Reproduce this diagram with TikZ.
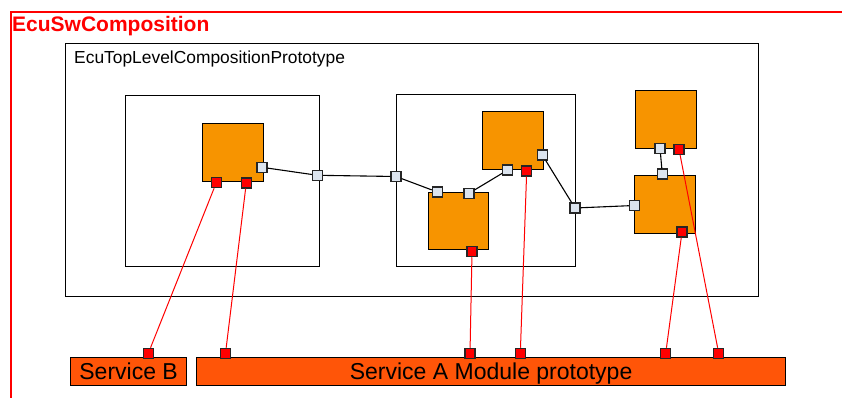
\documentclass[tikz,border=0pt]{standalone}
\usepackage{fontspec}
\setmainfont{Liberation Sans}
\definecolor{compfill}{HTML}{F79400}
\definecolor{servfill}{HTML}{FF5508}
\definecolor{portlight}{HTML}{DCE4EE}
\begin{document}
\begin{tikzpicture}[x=1pt,y=-1pt,
  frame/.style={draw=black,line width=1.2pt},
  comp/.style={draw=black,fill=compfill,line width=1.2pt,anchor=north west,inner sep=0pt},
  serv/.style={draw=black,fill=servfill,line width=1.2pt,anchor=north west,inner sep=0pt,text height=16.5pt,text depth=0pt,font=\fontsize{23}{23}\selectfont},
  lport/.style={draw=black!85,fill=portlight,line width=1.1pt,minimum size=10pt,inner sep=0pt},
  rport/.style={draw=black!85,fill=red,line width=1.1pt,minimum size=10pt,inner sep=0pt},
  conn/.style={draw=black,line width=1.1pt},
  rconn/.style={draw=red,line width=1pt}]
\useasboundingbox (0,0) rectangle (842,398);
% outer red frame
\draw[red,line width=1.8pt] (842,12) -- (11,12) -- (11,398);
\node[anchor=base west,inner sep=0pt,text=red,font=\fontsize{21}{21}\selectfont\bfseries] (title) at (12,31.5) {EcuSwComposition};
% composition prototype boxes
\node[frame,anchor=north west,minimum width=693pt,minimum height=253pt,inner sep=0pt] (top) at (65,43) {};
\node[anchor=base west,inner sep=0pt,font=\fontsize{17.4}{17.4}\selectfont] (toplabel) at (74,63.3) {EcuTopLevelCompositionPrototype};
\node[frame,anchor=north west,minimum width=194pt,minimum height=171pt,inner sep=0pt] (boxL) at (125,95) {};
\node[frame,anchor=north west,minimum width=179pt,minimum height=172pt,inner sep=0pt] (boxM) at (396,94) {};
% components
\node[comp,minimum width=61pt,minimum height=58pt] (cA) at (202,123) {};
\node[comp,minimum width=61pt,minimum height=58pt] (cB) at (482,111) {};
\node[comp,minimum width=60pt,minimum height=57pt] (cC) at (428,192) {};
\node[comp,minimum width=61pt,minimum height=58pt] (cD) at (635,90) {};
\node[comp,minimum width=61pt,minimum height=58pt] (cE) at (634,175) {};
% services
\node[serv,minimum width=116pt,minimum height=28pt] (sB) at (70,357) {Service B};
\node[serv,minimum width=589pt,minimum height=28pt] (sA) at (196,357) {Service A Module prototype};
% ports
\node[lport] (pA1) at (262,167.3) {};
\node[rport] (pAr1) at (216.3,182.7) {};
\node[rport] (pAr2) at (246.3,183) {};
\node[lport] (pL) at (317.5,175.3) {};
\node[lport] (pM1) at (396,176.5) {};
\node[lport] (pC1) at (437.3,192) {};
\node[lport] (pC2) at (469,193.3) {};
\node[rport] (pCr) at (472,251.7) {};
\node[lport] (pB1) at (507.7,170) {};
\node[rport] (pBr) at (526.7,171) {};
\node[lport] (pB2) at (542.3,155) {};
\node[lport] (pM2) at (575,208) {};
\node[lport] (pD1) at (660,148.3) {};
\node[rport] (pDr) at (679,149.3) {};
\node[lport] (pE1) at (662.3,174) {};
\node[lport] (pE2) at (634.3,205.5) {};
\node[rport] (pEr) at (682,232) {};
\node[rport] (qB) at (148.3,353.3) {};
\node[rport] (qA1) at (225.5,353.3) {};
\node[rport] (qA2) at (470,353.3) {};
\node[rport] (qA3) at (520.3,353.3) {};
\node[rport] (qA4) at (665.7,353.3) {};
\node[rport] (qA5) at (718.7,353.3) {};
% black connectors
\draw[conn] (pA1) -- (pL);
\draw[conn] (pL) -- (pM1);
\draw[conn] (pM1) -- (pC1);
\draw[conn] (pC2) -- (pB1);
\draw[conn] (pB2) -- (pM2);
\draw[conn] (pM2) -- (pE2);
\draw[conn] (pD1) -- (pE1);
% red connectors
\draw[rconn] (pAr1) -- (qB);
\draw[rconn] (pAr2) -- (qA1);
\draw[rconn] (pCr) -- (qA2);
\draw[rconn] (pBr) -- (qA3);
\draw[rconn] (pEr) -- (qA4);
\draw[rconn] (pDr) -- (qA5);
\end{tikzpicture}
\end{document}
